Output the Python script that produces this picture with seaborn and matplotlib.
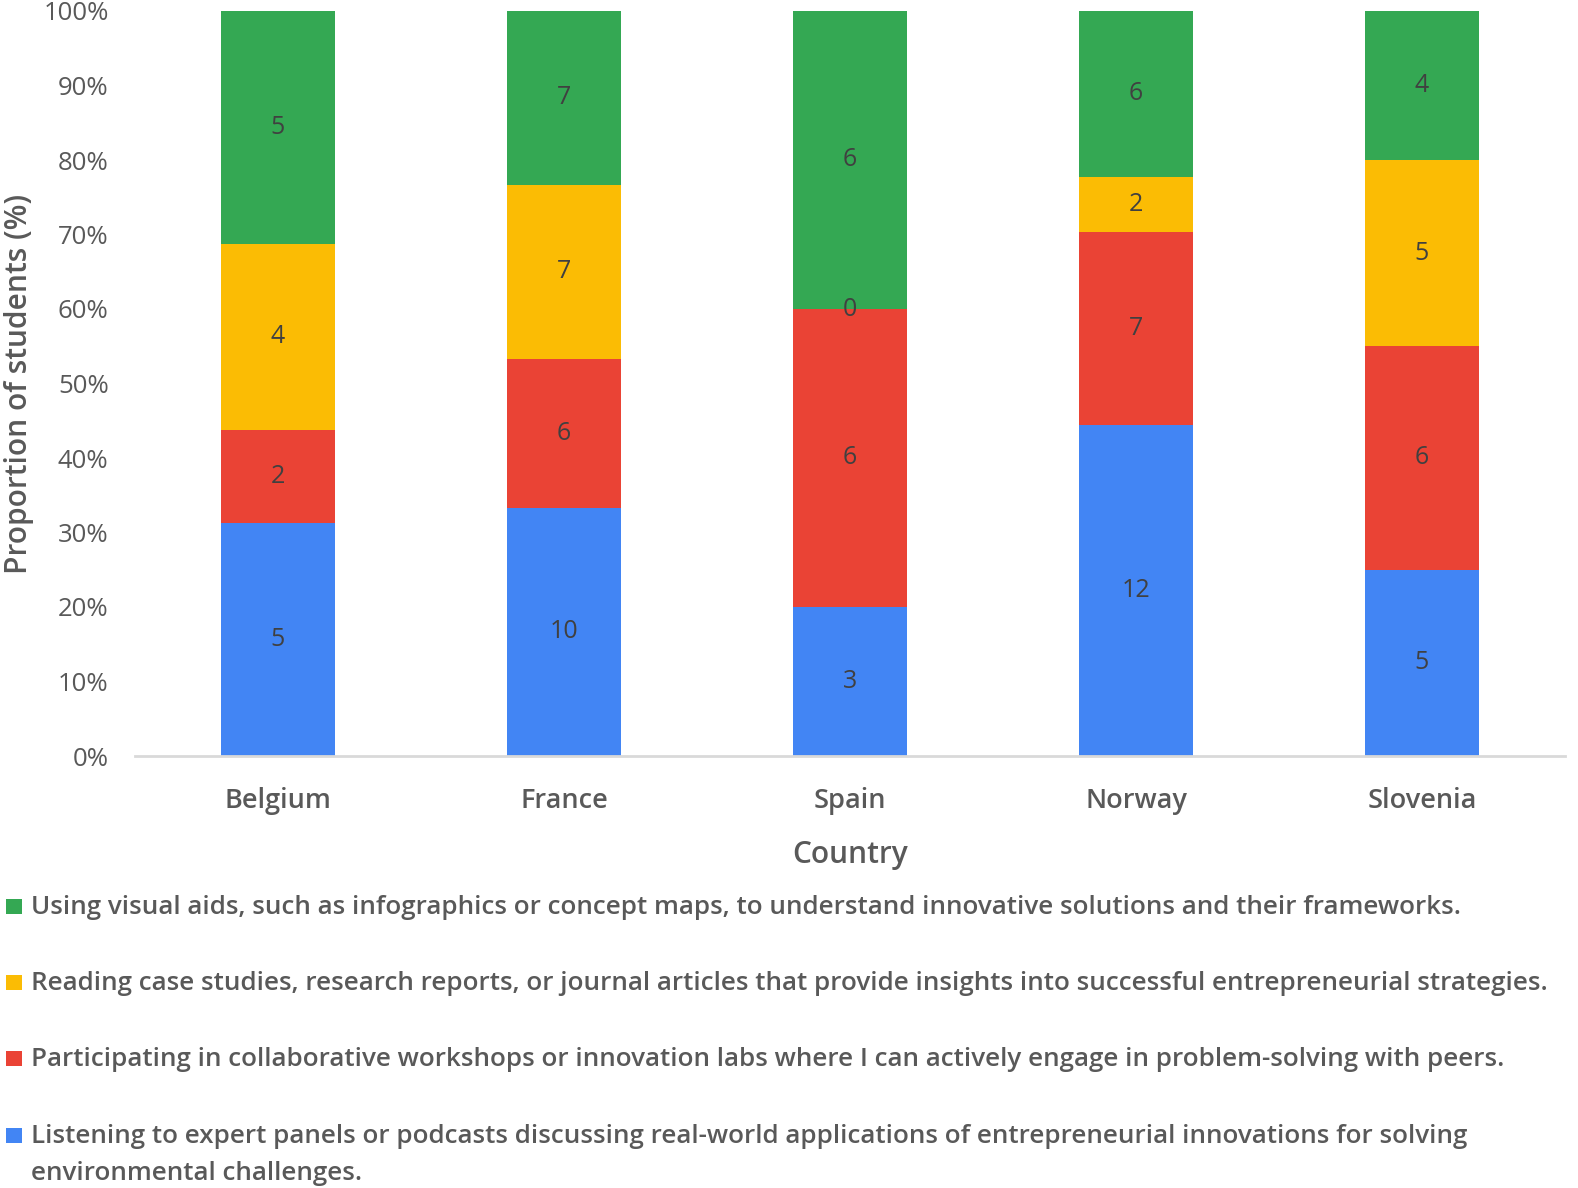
import numpy as np
import pandas as pd
import matplotlib
matplotlib.use("Agg")
import matplotlib.pyplot as plt
from matplotlib.patches import Rectangle
import seaborn as sns

countries = ["Belgium", "France", "Spain", "Norway", "Slovenia"]
# counts of students per preference (bottom to top in each bar)
listening = [5, 10, 3, 12, 5]
participating = [2, 6, 6, 7, 6]
reading = [4, 7, 0, 2, 5]
visual = [5, 7, 6, 6, 4]

series_names = [
    "Listening to expert panels or podcasts discussing real-world applications of entrepreneurial innovations for solving\nenvironmental challenges.",
    "Participating in collaborative workshops or innovation labs where I can actively engage in problem-solving with peers.",
    "Reading case studies, research reports, or journal articles that provide insights into successful entrepreneurial strategies.",
    "Using visual aids, such as infographics or concept maps, to understand innovative solutions and their frameworks.",
]
colors = ["#4285F4", "#EA4335", "#FBBC04", "#34A853"]

sns.set_theme(style="white")
plt.rcParams["font.family"] = ["Open Sans", "DejaVu Sans"]

W, H = 1578, 1188
counts = np.array([listening, participating, reading, visual], dtype=float)
shares = counts / counts.sum(axis=0) * 100
tops = np.cumsum(shares, axis=0)

fig = plt.figure(figsize=(W / 100, H / 100), dpi=100)
ax = fig.add_axes([135 / W, 1 - 756 / H, 1430 / W, 745 / H])

# overlay cumulative bars from the top series down
for i in range(len(series_names) - 1, -1, -1):
    df = pd.DataFrame({"country": countries, "top": tops[i]})
    sns.barplot(data=df, x="country", y="top", color=colors[i], width=0.4,
                saturation=1, ax=ax, edgecolor="none", linewidth=0)

for i in range(len(series_names)):
    mids = tops[i] - shares[i] / 2
    for j in range(len(countries)):
        ax.text(j, mids[j], f"{int(counts[i, j])}", ha="center", va="center",
                fontsize=18, color="#404040")

ax.set_ylim(0, 100)
ax.set_xlim(-0.5, 4.5)
ax.set_yticks(np.arange(0, 101, 10))
ax.set_yticklabels([f"{v}%" for v in range(0, 101, 10)])
ax.tick_params(axis="y", length=0, pad=19, labelsize=18.5, labelcolor="#595959")
ax.tick_params(axis="x", length=0, pad=22, labelsize=19.5, labelcolor="#595959")
for lab in ax.get_xticklabels():
    lab.set_fontweight("semibold")
ax.set_xlabel("Country", fontsize=21.5, color="#595959", fontweight="semibold", labelpad=18)
ax.set_ylabel("Proportion of students (%)", fontsize=21.5, color="#595959",
              fontweight="semibold", labelpad=7)
for side in ["top", "right", "left"]:
    ax.spines[side].set_visible(False)
ax.spines["bottom"].set_color("#D9D9D9")
ax.spines["bottom"].set_linewidth(2)

# legend rows below the chart, top series first
baselines = [914, 990, 1066, 1143]
for k, i in enumerate(range(len(series_names) - 1, -1, -1)):
    yb = baselines[k]
    fig.patches.append(Rectangle((6 / W, 1 - yb / H), 16 / W, 15 / H,
                                 transform=fig.transFigure, facecolor=colors[i],
                                 edgecolor="none"))
    for n, line in enumerate(series_names[i].split("\n")):
        fig.text(31 / W, 1 - (yb + 37 * n) / H, line, ha="left", va="baseline",
                 fontsize=18.7, fontweight="semibold", color="#595959")

fig.savefig("out.png", dpi=100)
